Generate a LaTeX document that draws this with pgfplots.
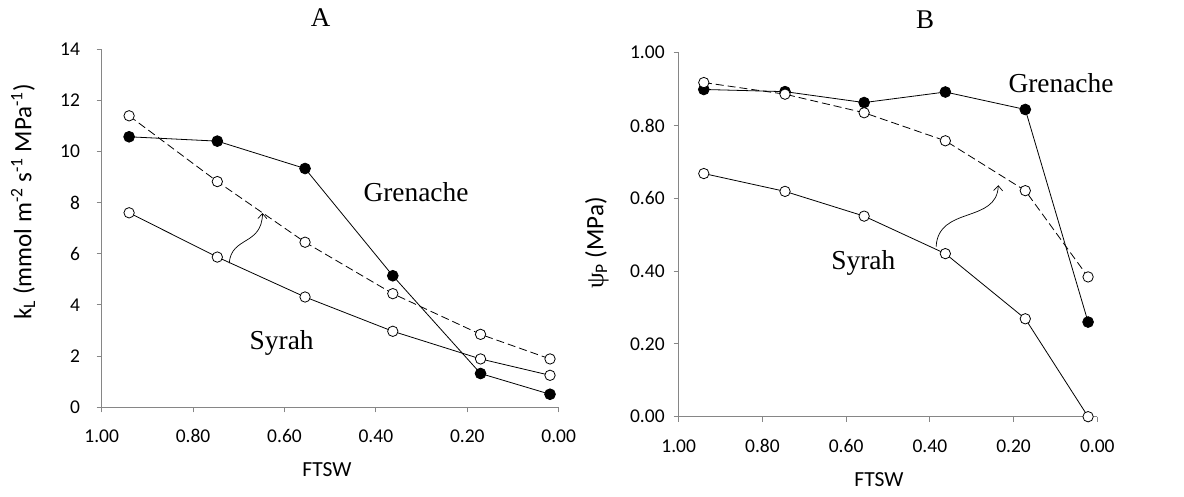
\documentclass[border=0pt]{standalone}
\usepackage{fontspec}
\setmainfont{Carlito}
\newfontfamily\tnr{Liberation Serif}
\usepackage{pgfplots}
\pgfplotsset{compat=1.18}
\usetikzlibrary{arrows.meta}
\definecolor{axgray}{HTML}{868686}
\pgfplotsset{
  common/.style={
    scale only axis,
    anchor=south west,
    x dir=reverse,
    xmin=0, xmax=1,
    xtick={0,0.2,0.4,0.6,0.8,1},
    xticklabels={0.00,0.20,0.40,0.60,0.80,1.00},
    axis x line*=bottom,
    axis y line*=left,
    axis line style={draw=axgray, line width=0.9pt},
    tick style={draw=axgray, line width=0.9pt},
    tick align=outside,
    major tick length=5pt,
    /pgf/number format/assume math mode=true,
    tick label style={font=\fontsize{19.5}{21}\selectfont},
    xticklabel style={anchor=base, yshift=-30.5pt},
    clip=false,
  },
  op/.style={black, line width=0.8pt, mark=*, mark size=5.2pt, mark options={solid, fill=white, draw=black, line width=0.8pt}},
  fl/.style={black, line width=0.8pt, mark=*, mark size=5.4pt, mark options={solid, fill=black, draw=black}},
  dsh/.style={dash pattern=on 8pt off 4pt},
}
\begin{document}
\begin{tikzpicture}
\useasboundingbox (0pt,0pt) rectangle (1184pt,496pt);
% ---------- Panel A ----------
\begin{axis}[common,
  at={(101.7pt,88.7pt)}, width=457pt, height=358.3pt,
  ymin=0, ymax=14, ytick={0,2,...,14},
  yticklabel style={xshift=-13.2pt},
]
\addplot[fl] coordinates {(0.94,10.57)(0.747,10.40)(0.555,9.33)(0.363,5.14)(0.171,1.32)(0.019,0.51)};
\addplot[op,dsh] coordinates {(0.94,11.39)(0.747,8.82)(0.555,6.45)(0.363,4.44)(0.171,2.85)(0.019,1.89)};
\addplot[op] coordinates {(0.94,7.60)(0.747,5.87)(0.555,4.31)(0.363,2.97)(0.171,1.89)(0.019,1.25)};
\draw[black, line width=0.7pt, -{Straight Barb[length=5pt,width=9pt]}]
  (axis cs:0.721,5.63) .. controls (axis cs:0.716,6.70) and (axis cs:0.650,6.30) .. (axis cs:0.648,7.59);
\end{axis}
% ---------- Panel B ----------
\begin{axis}[common,
  at={(678.7pt,79.3pt)}, width=418.6pt, height=364pt,
  ymin=0, ymax=1, ytick={0,0.2,0.4,0.6,0.8,1},
  yticklabels={0.00,0.20,0.40,0.60,0.80,1.00},
  yticklabel style={xshift=-5.5pt},
]
\addplot[fl] coordinates {(0.94,0.899)(0.746,0.893)(0.557,0.863)(0.363,0.892)(0.172,0.844)(0.022,0.260)};
\addplot[op,dsh] coordinates {(0.94,0.918)(0.746,0.886)(0.557,0.835)(0.363,0.758)(0.172,0.621)(0.022,0.384)};
\addplot[op] coordinates {(0.94,0.668)(0.746,0.619)(0.557,0.551)(0.363,0.448)(0.172,0.269)(0.022,0.0)};
\draw[black, line width=0.7pt, -{Straight Barb[length=5pt,width=9pt]}]
  (axis cs:0.385,0.467) .. controls (axis cs:0.380,0.580) and (axis cs:0.240,0.530) .. (axis cs:0.2365,0.636);
\end{axis}
% ---------- Text ----------
\node[font=\tnr\fontsize{27}{30}\selectfont] at (320.5pt,478pt) {A};
\node[font=\tnr\fontsize{27}{30}\selectfont] at (925pt,476pt) {B};
\node[font=\fontsize{21.5}{24}\selectfont] at (327pt,26pt) {FTSW};
\node[font=\fontsize{21.5}{24}\selectfont] at (879pt,16pt) {FTSW};
\node[font=\fontsize{25}{28}\selectfont, rotate=90] at (23pt,294pt) {k\textsubscript{L} (mmol m\textsuperscript{-2} s\textsuperscript{-1} MPa\textsuperscript{-1})};
\node[font=\fontsize{25}{28}\selectfont, rotate=90] at (597pt,253pt) {{\tnr ψ}\textsubscript{P} (MPa)};
\node[font=\tnr\fontsize{27.4}{30}\selectfont] at (416pt,304.3pt) {Grenache};
\node[font=\tnr\fontsize{27.4}{30}\selectfont] at (281.7pt,152.7pt) {Syrah};
\node[font=\tnr\fontsize{27.4}{30}\selectfont] at (1061pt,413.3pt) {Grenache};
\node[font=\tnr\fontsize{27.4}{30}\selectfont] at (863.3pt,232.7pt) {Syrah};
\end{tikzpicture}
\end{document}
